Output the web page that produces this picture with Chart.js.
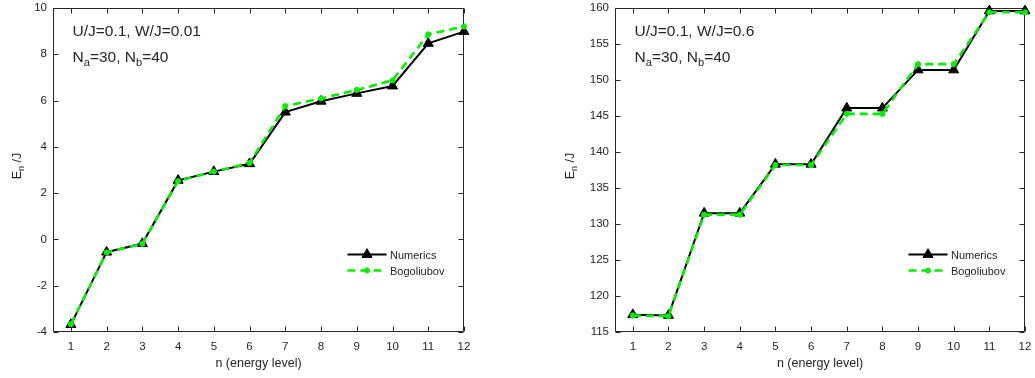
<!DOCTYPE html>
<html>
<head>
<meta charset="utf-8">
<script src="https://cdn.jsdelivr.net/npm/chart.js@4/dist/chart.umd.min.js"></script>
<style>
  html, body { margin: 0; padding: 0; background: #ffffff; }
  #wrap { position: relative; width: 1035px; height: 378px; overflow: hidden; }
  canvas { position: absolute; top: 0; }
  #cLeft { left: 0; }
  #cRight { left: 517px; }
</style>
</head>
<body>
<div id="wrap">
  <canvas id="cLeft" width="517" height="378"></canvas>
  <canvas id="cRight" width="518" height="378"></canvas>
</div>
<script>
// Energy levels on the horizontal axis
const levels = [1, 2, 3, 4, 5, 6, 7, 8, 9, 10, 11, 12];

// Weak disorder: U/J=0.1, W/J=0.01
const weakNumerics    = [-3.68, -0.55, -0.18, 2.55, 2.93, 3.27, 5.50, 5.97, 6.31, 6.63, 8.47, 8.98];
const weakBogoliubov  = [-3.66, -0.56, -0.19, 2.52, 2.93, 3.30, 5.76, 6.09, 6.46, 6.87, 8.86, 9.20];

// Strong disorder: U/J=0.1, W/J=0.6
const strongNumerics   = [117.4, 117.3, 131.5, 131.5, 138.3, 138.3, 146.1, 146.1, 151.4, 151.4, 159.6, 159.6];
const strongBogoliubov = [117.3, 117.2, 131.3, 131.3, 138.2, 138.2, 145.3, 145.3, 152.2, 152.2, 159.4, 159.4];

// Tick values
const xTicks = [1, 2, 3, 4, 5, 6, 7, 8, 9, 10, 11, 12];
const weakYTicks = [-4, -2, 0, 2, 4, 6, 8, 10];
const strongYTicks = [115, 120, 125, 130, 135, 140, 145, 150, 155, 160];

const AXIS = '#262626';
const GREEN = '#00ee00';
const FONT = '"Liberation Sans", Arial, Helvetica, sans-serif';

// Draws the boxed axes with inward tick marks on all four sides
const boxPlugin = {
  id: 'box',
  beforeDatasetsDraw(chart) {
    const { ctx, chartArea: a, scales } = chart;
    const L = Math.round(a.left) + 0.5, R = Math.round(a.right) - 0.5;
    const T = Math.round(a.top) + 0.5, B = Math.round(a.bottom) - 0.5;
    const len = 5;
    ctx.save();
    ctx.strokeStyle = AXIS;
    ctx.lineWidth = 1;
    ctx.beginPath();
    ctx.rect(L, T, R - L, B - T);
    scales.x.ticks.forEach(t => {
      const px = Math.round(scales.x.getPixelForValue(t.value)) + 0.5;
      ctx.moveTo(px, B); ctx.lineTo(px, B - len);
      ctx.moveTo(px, T); ctx.lineTo(px, T + len);
    });
    scales.y.ticks.forEach(t => {
      const py = Math.round(scales.y.getPixelForValue(t.value)) + 0.5;
      ctx.moveTo(L, py); ctx.lineTo(L + len, py);
      ctx.moveTo(R, py); ctx.lineTo(R - len, py);
    });
    ctx.stroke();
    ctx.restore();
  }
};

// Text with a lowered subscript: parts = [[text, isSub], ...]
function drawRich(ctx, parts, x, y, size) {
  let cx = x;
  parts.forEach(([txt, sub]) => {
    const s = sub ? size * 0.72 : size;
    ctx.font = s + 'px ' + FONT;
    ctx.fillText(txt, cx, sub ? y + size * 0.3 : y);
    cx += ctx.measureText(txt).width;
  });
  return cx - x;
}

function measureRich(ctx, parts, size) {
  let w = 0;
  parts.forEach(([txt, sub]) => {
    ctx.font = (sub ? size * 0.72 : size) + 'px ' + FONT;
    w += ctx.measureText(txt).width;
  });
  return w;
}

// Annotation, axis titles and the in-plot legend
function makeTextPlugin(opts) {
  return {
    id: 'texts',
    afterDraw(chart) {
      const { ctx, chartArea: a } = chart;
      ctx.save();
      ctx.fillStyle = AXIS;
      ctx.textBaseline = 'middle';
      ctx.textAlign = 'left';
      // parameter annotation
      drawRich(ctx, [[opts.line1, false]], a.left + 19.5, a.top + 24, 15.5);
      drawRich(ctx, [['N', false], ['a', true], ['=30, N', false], ['b', true], ['=40', false]], a.left + 19.5, a.top + 50, 15.5);

      // x title
      ctx.font = '12.5px ' + FONT;
      ctx.textAlign = 'center';
      ctx.fillText('n (energy level)', (a.left + a.right) / 2, 364);

      // y title, rotated
      ctx.save();
      ctx.translate(opts.yTitleX, (a.top + a.bottom) / 2 - 4);
      ctx.rotate(-Math.PI / 2);
      ctx.textAlign = 'left';
      const yParts = [['E', false], ['n', true], [' /J', false]];
      const w = measureRich(ctx, yParts, 12.5);
      drawRich(ctx, yParts, -w / 2, 0, 12.5);
      ctx.restore();

      // legend
      const ds = chart.data.datasets;
      const x0 = a.right - 116.5, x1 = a.right - 77.5, xm = (x0 + x1) / 2;
      const rows = [a.top + 245.5, a.top + 262];
      ds.forEach((d, i) => {
        const y = Math.round(rows[i]) + 0.5;
        ctx.save();
        ctx.strokeStyle = d.borderColor;
        ctx.lineWidth = d.borderWidth;
        ctx.setLineDash(d.borderDash || []);
        ctx.beginPath();
        ctx.moveTo(x0, y); ctx.lineTo(x1, y);
        ctx.stroke();
        ctx.setLineDash([]);
        ctx.fillStyle = d.pointBackgroundColor;
        ctx.strokeStyle = d.pointBorderColor;
        ctx.lineWidth = d.pointBorderWidth;
        Chart.helpers.drawPoint(ctx, {
          pointStyle: d.pointStyle, radius: d.pointRadius, borderWidth: d.pointBorderWidth, rotation: 0
        }, xm, y);
        ctx.restore();
        ctx.fillStyle = AXIS;
        ctx.font = '11px ' + FONT;
        ctx.textAlign = 'left';
        ctx.fillText(d.label, a.right - 74, y + 1);
      });
      ctx.restore();
    }
  };
}

function makeChart(canvasId, numerics, bogoliubov, yTicks, yMin, yMax, leftWidth, rightPad, opts) {
  return new Chart(document.getElementById(canvasId), {
    type: 'line',
    data: {
      datasets: [
        {
          label: 'Numerics',
          data: levels.map((n, i) => ({ x: n, y: numerics[i] })),
          borderColor: '#000000',
          borderWidth: 2,
          pointStyle: 'triangle',
          pointRadius: 5.8,
          pointBackgroundColor: '#000000',
          pointBorderColor: '#000000',
          pointBorderWidth: 1,
          tension: 0,
          order: 2,
          clip: false
        },
        {
          label: 'Bogoliubov',
          data: levels.map((n, i) => ({ x: n, y: bogoliubov[i] })),
          borderColor: GREEN,
          borderWidth: 2.6,
          borderDash: [8, 5],
          pointStyle: 'circle',
          pointRadius: 2.6,
          pointBackgroundColor: GREEN,
          pointBorderColor: GREEN,
          pointBorderWidth: 1,
          tension: 0,
          order: 1,
          clip: false
        }
      ]
    },
    options: {
      responsive: false,
      animation: false,
      devicePixelRatio: 1,
      layout: { padding: { top: 8, right: rightPad, left: 0, bottom: 0 } },
      plugins: { legend: { display: false }, tooltip: { enabled: false } },
      scales: {
        x: {
          type: 'linear',
          min: 0.5,
          max: 12,
          afterBuildTicks: s => { s.ticks = xTicks.map(v => ({ value: v })); },
          afterFit: s => { s.height = 46; s.paddingLeft = 0; s.paddingRight = 0; },
          grid: { display: false, drawTicks: false },
          border: { display: false },
          ticks: { color: AXIS, font: { family: FONT, size: 11.5 }, padding: 8, maxRotation: 0 }
        },
        y: {
          type: 'linear',
          min: yMin,
          max: yMax,
          afterBuildTicks: s => { s.ticks = yTicks.map(v => ({ value: v })); },
          afterFit: s => { s.width = leftWidth; s.paddingTop = 0; s.paddingBottom = 0; },
          grid: { display: false, drawTicks: false },
          border: { display: false },
          ticks: { color: AXIS, font: { family: FONT, size: 11.5 }, padding: 6 }
        }
      }
    },
    plugins: [boxPlugin, makeTextPlugin(opts)]
  });
}

makeChart('cLeft', weakNumerics, weakBogoliubov, weakYTicks, -4, 10, 53, 53,
  { line1: 'U/J=0.1, W/J=0.01', yTitleX: 18 });
makeChart('cRight', strongNumerics, strongBogoliubov, strongYTicks, 115, 160, 98, 10,
  { line1: 'U/J=0.1, W/J=0.6', yTitleX: 54 });
</script>
</body>
</html>
